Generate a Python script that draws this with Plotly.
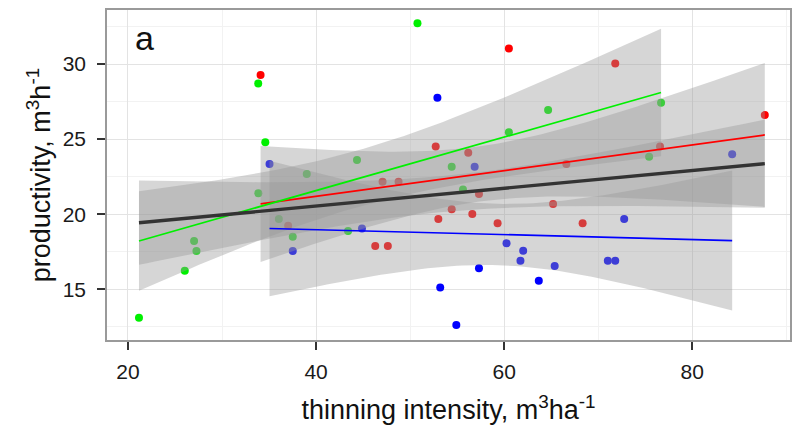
import numpy as np
import plotly.graph_objects as go

# ---------------- data ----------------
x_green = [21.17, 26.04, 27.03, 27.28, 33.85, 33.86, 34.60, 36.04, 37.52, 39.01,
           43.40, 44.35, 50.78, 54.42, 55.62, 60.50, 64.67, 75.41, 76.68]
y_green = [13.11, 16.24, 18.22, 17.55, 28.71, 21.39, 24.79, 19.68, 18.50, 22.68,
           18.88, 23.61, 32.71, 23.16, 21.64, 25.45, 26.94, 23.83, 27.42]

x_red = [34.10, 37.03, 46.29, 47.07, 47.63, 48.77, 52.72, 53.00, 54.42, 56.18,
         56.61, 57.32, 59.30, 60.50, 65.20, 66.61, 68.34, 71.81, 76.57, 87.71]
y_red = [29.27, 19.23, 17.88, 22.16, 17.88, 22.16, 24.50, 19.68, 20.33, 24.10,
         20.01, 21.35, 19.39, 31.04, 20.68, 23.34, 19.39, 30.04, 24.50, 26.60]

x_blue = [35.05, 37.52, 44.88, 52.90, 53.20, 54.91, 56.86, 57.32, 60.25, 61.73,
          62.02, 63.68, 65.37, 71.02, 71.81, 72.76, 84.24]
y_blue = [23.34, 17.55, 19.04, 27.76, 15.11, 12.62, 23.16, 16.40, 18.06, 16.90,
          17.57, 15.57, 16.55, 16.90, 16.90, 19.68, 23.99]

x_ticks = [20, 40, 60, 80]
y_ticks = [15, 20, 25, 30]
panel_label = "a"
x_title = "thinning intensity, m<sup>3</sup>ha<sup>-1</sup>"
y_title = "productivity, m<sup>3</sup>h<sup>-1</sup>"

# ---------------- helpers ----------------
def t975(df):
    z = 1.959964
    g1 = (z**3 + z) / 4
    g2 = (5*z**5 + 16*z**3 + 3*z) / 96
    g3 = (3*z**7 + 19*z**5 + 17*z**3 - 15*z) / 384
    g4 = (79*z**9 + 776*z**7 + 1482*z**5 - 1920*z**3 - 945*z) / 92160
    return z + g1/df + g2/df**2 + g3/df**3 + g4/df**4

def lm_band(x, y, n=80):
    x = np.asarray(x, float); y = np.asarray(y, float)
    b, a = np.polyfit(x, y, 1)
    res = y - (a + b*x)
    df = len(x) - 2
    s = np.sqrt(np.sum(res**2) / df)
    xs = np.linspace(x.min(), x.max(), n)
    fit = a + b*xs
    se = s * np.sqrt(1/len(x) + (xs - x.mean())**2 / np.sum((x - x.mean())**2))
    t = t975(df)
    return xs, fit, fit - t*se, fit + t*se

fig = go.Figure()

groups = [
    (x_red, y_red, "#FF0000", 1.7),
    (x_green, y_green, "#00F000", 1.7),
    (x_blue, y_blue, "#0000FF", 1.7),
]
x_all = x_red + x_green + x_blue
y_all = y_red + y_green + y_blue
smooths = groups + [(x_all, y_all, "#333333", 3.4)]

# points first (ribbons drawn over them, as in ggplot)
for xs, ys, col, _ in groups:
    fig.add_trace(go.Scatter(x=xs, y=ys, mode="markers",
                             marker=dict(color=col, size=8, line=dict(width=0)),
                             showlegend=False, hoverinfo="skip"))

ribbon = "rgba(153,153,153,0.4)"
bands = [(lm_band(xs, ys), col, w) for xs, ys, col, w in smooths]

for (gx, fit, lo, hi), col, w in bands:
    fig.add_trace(go.Scatter(x=np.concatenate([gx, gx[::-1]]),
                             y=np.concatenate([hi, lo[::-1]]),
                             mode="lines", fill="toself", fillcolor=ribbon,
                             line=dict(width=0), showlegend=False, hoverinfo="skip"))
for (gx, fit, lo, hi), col, w in bands:
    fig.add_trace(go.Scatter(x=gx, y=fit, mode="lines",
                             line=dict(color=col, width=w),
                             showlegend=False, hoverinfo="skip"))

axis_common = dict(
    showline=True, mirror=True, linecolor="#9A9A9A", linewidth=1.5,
    ticks="outside", ticklen=8, tickwidth=1.5, tickcolor="#333333",
    showgrid=True, gridcolor="#E3E3E3", gridwidth=1.2,
    zeroline=False,
    tickfont=dict(family="Liberation Sans, Arial", size=21, color="#1A1A1A"),
    minor=dict(showgrid=True, gridcolor="#F2F2F2", gridwidth=0.8),
)

fig.update_layout(
    width=794, height=435,
    margin=dict(l=107, r=2, t=10, b=95),
    paper_bgcolor="white", plot_bgcolor="white",
    font=dict(family="Liberation Sans, Arial", color="#111111"),
    xaxis=dict(range=[17.77, 90.39], tickvals=x_ticks,
               ticktext=[str(v) for v in x_ticks], ticklabelstandoff=4,
               title=dict(text=x_title, font=dict(size=27), standoff=18),
               **axis_common),
    yaxis=dict(range=[11.62, 33.6], tickvals=y_ticks,
               ticktext=[str(v) for v in y_ticks], ticklabelstandoff=7,
               title=dict(text=y_title, font=dict(size=27), standoff=4),
               **axis_common),
)
fig.update_xaxes(minor=dict(tickvals=[30, 50, 70, 90], ticks=""))
fig.update_yaxes(minor=dict(tickvals=[12.5, 17.5, 22.5, 27.5, 32.5], ticks=""))

fig.add_annotation(text=panel_label, xref="paper", yref="paper",
                   x=0.038, y=0.915, xanchor="left", yanchor="middle",
                   showarrow=False, font=dict(size=34, color="#111111",
                                              family="Liberation Sans, Arial"))

fig.write_html("out.html")
